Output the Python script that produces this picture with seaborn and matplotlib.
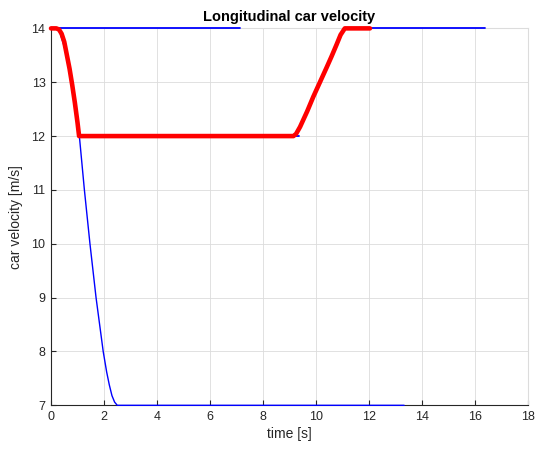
import numpy as np
import pandas as pd
import matplotlib.pyplot as plt
import seaborn as sns

# values
red_t = [0, 0.2, 0.3, 0.4, 0.5, 0.6, 0.7, 0.8, 0.9, 1.0, 1.06, 9.15, 9.25, 9.4,
         9.67, 9.9, 10.15, 10.4, 10.59, 10.78, 10.93, 11.09, 12.04]
red_v = [14, 14, 13.98, 13.9, 13.75, 13.5, 13.25, 12.95, 12.62, 12.25, 12.0, 12.0,
         12.04, 12.17, 12.46, 12.73, 13.0, 13.27, 13.48, 13.7, 13.88, 14.0, 14.0]

# blue curve dropping to 7
drop_t = [0, 0.3, 0.6, 0.8, 1.07, 1.26, 1.47, 1.70, 1.97, 2.1, 2.2, 2.3, 2.4, 2.5, 13.33]
drop_v = [14, 13.98, 13.5, 12.95, 12.0, 11.0, 10.0, 9.0, 8.0, 7.62, 7.38, 7.18, 7.06, 7.0, 7.0]

# flat blue segments: (start, end, level)
seg_start = [0, 1.07, 11.09]
seg_end = [7.13, 9.37, 16.4]
seg_level = [14, 12, 14]

sns.set_style("whitegrid")
plt.rcParams["font.family"] = ["Liberation Sans", "DejaVu Sans"]

fig = plt.figure(figsize=(5.37, 4.57), dpi=100)
ax = fig.add_axes([0.095, 0.1131, 0.888, 0.8248])

for s, e, lv in zip(seg_start, seg_end, seg_level):
    sns.lineplot(x=[s, e], y=[lv, lv], color="blue", lw=1.3, ax=ax,
                 estimator=None, sort=False, clip_on=False, zorder=5)
sns.lineplot(x=drop_t, y=drop_v, color="blue", lw=1.0, ax=ax,
             estimator=None, sort=False, clip_on=False, zorder=5)
sns.lineplot(x=red_t, y=red_v, color="red", lw=3.3, ax=ax,
             estimator=None, sort=False, clip_on=False, zorder=6)

ax.set_xlim(0, 18)
ax.set_ylim(7, 14)
ax.set_xticks(np.arange(0, 19, 2))
ax.set_yticks(np.arange(7, 15, 1))

ax.grid(True, color="#dcdcdc", lw=0.6)
dark = "#262626"
for side in ["left", "bottom"]:
    ax.spines[side].set_color(dark)
    ax.spines[side].set_linewidth(0.8)
for side in ["top", "right"]:
    ax.spines[side].set_color("#dcdcdc")
    ax.spines[side].set_linewidth(0.8)
ax.tick_params(direction="in", length=3.5, width=0.8, color=dark,
               labelcolor=dark, labelsize=9, bottom=True, left=True,
               top=False, right=False, pad=4)

ax.set_title("Longitudinal car velocity", fontsize=10.5, fontweight="bold",
             color="black", pad=5)
ax.set_xlabel("time [s]", fontsize=10, color=dark, labelpad=3)
ax.set_ylabel("car velocity [m/s]", fontsize=10, color=dark, labelpad=6)

fig.savefig("out.png", dpi=100)
